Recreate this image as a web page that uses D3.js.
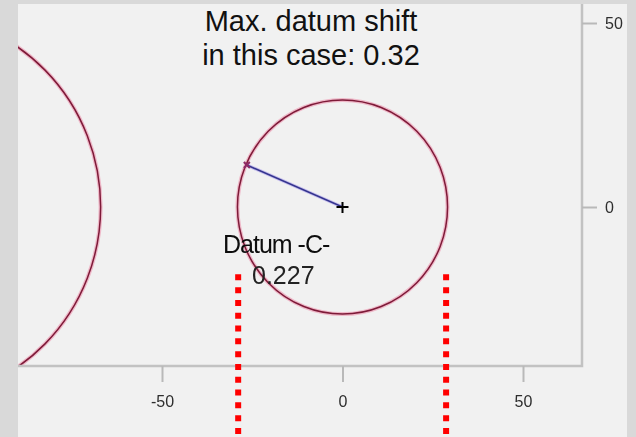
<!DOCTYPE html>
<html>
<head>
<meta charset="utf-8">
<script src="https://cdn.jsdelivr.net/npm/d3@7"></script>
<style>
  body { margin: 0; background: #d9d9d9; }
  svg { display: block; }
</style>
</head>
<body>
<script>
// values
const xTicks = [-50, 0, 50];
const yTicks = [0, 50];
const circleCenters = [[0, 0], [-119.6, 0]];
const circleRadii = [29.1, 52.6];
const shiftLine = [[-26.5, 11.4], [0, 0]];
const limitX = [-28.9, 28.7];
const limitY = [-18.3, -63];
const titleLines = ["Max. datum shift", "in this case: 0.32"];
const datumLabel = ["Datum -C-", "0.227"];

const width = 636, height = 437;
const plot = {left: 18, top: 4, right: 582, bottom: 366};
const fontFam = "Liberation Sans, Arial, sans-serif";

const svg = d3.select("body").append("svg")
  .attr("width", width)
  .attr("height", height);

// scales (units -> px)
const x = d3.scaleLinear().domain([-50, 50]).range([162, 523]);
const y = d3.scaleLinear().domain([0, 50]).range([207, 23]);

const defs = svg.append("defs");
defs.append("clipPath").attr("id", "plotclip")
  .append("rect")
  .attr("x", plot.left).attr("y", plot.top)
  .attr("width", plot.right - plot.left)
  .attr("height", plot.bottom - plot.top);
defs.append("filter").attr("id", "soft")
  .append("feGaussianBlur").attr("stdDeviation", 0.45);

// panel
svg.append("rect")
  .attr("x", 18).attr("y", 4)
  .attr("width", 609).attr("height", 433)
  .attr("fill", "#f1f1f1");

// circles, clipped to plot area
const g = svg.append("g").attr("clip-path", "url(#plotclip)");
const circ = g.selectAll(".circ")
  .data(circleCenters.map((c, i) => ({c: c, r: circleRadii[i]})))
  .enter().append("g").attr("class", "circ");

circ.append("ellipse")
  .attr("cx", d => x(d.c[0])).attr("cy", d => y(d.c[1]))
  .attr("rx", d => x(d.r) - x(0)).attr("ry", d => y(0) - y(d.r))
  .attr("fill", "none")
  .attr("stroke", "#eea6bb")
  .attr("stroke-opacity", 0.75)
  .attr("stroke-width", 4);
circ.append("ellipse")
  .attr("cx", d => x(d.c[0])).attr("cy", d => y(d.c[1]))
  .attr("rx", d => x(d.r) - x(0)).attr("ry", d => y(0) - y(d.r))
  .attr("fill", "none")
  .attr("stroke", "#7e1a38")
  .attr("stroke-width", 1.5);

// frame (right and bottom)
svg.append("path")
  .attr("d", `M${plot.left},${plot.bottom}H${plot.right}V${plot.top}`)
  .attr("fill", "none")
  .attr("stroke", "#c2c2c2")
  .attr("stroke-width", 2.5);

// axes
const fmt = d => String(d);   // plain hyphen, like the original
const xAxis = svg.append("g")
  .attr("transform", `translate(0,${plot.bottom})`)
  .call(d3.axisBottom(x).tickValues(xTicks).tickFormat(fmt).tickSize(16).tickPadding(14));
const yAxis = svg.append("g")
  .attr("transform", `translate(${plot.right},0)`)
  .call(d3.axisRight(y).tickValues(yTicks).tickFormat(fmt).tickSize(15).tickPadding(8));

[xAxis, yAxis].forEach(a => {
  a.select(".domain").remove();
  a.selectAll(".tick line").attr("stroke", "#b9b9b9").attr("stroke-width", 2);
  a.selectAll(".tick text")
    .attr("fill", "#2e2e2e")
    .attr("font-family", fontFam)
    .attr("font-size", 16)
    .attr("filter", "url(#soft)");
});

// shift vector from circle point to center
svg.append("line")
  .attr("x1", x(shiftLine[0][0])).attr("y1", y(shiftLine[0][1]))
  .attr("x2", x(shiftLine[1][0])).attr("y2", y(shiftLine[1][1]))
  .attr("stroke", "#c8c0ee").attr("stroke-width", 3.5);
svg.append("line")
  .attr("x1", x(shiftLine[0][0])).attr("y1", y(shiftLine[0][1]))
  .attr("x2", x(shiftLine[1][0])).attr("y2", y(shiftLine[1][1]))
  .attr("stroke", "#35358f").attr("stroke-width", 1.5);

// small marker at the shifted point
const px = x(shiftLine[0][0]), py = y(shiftLine[0][1]);
svg.append("path")
  .attr("d", `M${px - 3},${py - 3}L${px + 3},${py + 3}M${px - 3},${py + 3}L${px + 3},${py - 3}`)
  .attr("stroke", "#8e2a66").attr("stroke-width", 2);

// center cross
const cx0 = x(0), cy0 = y(0);
svg.append("path")
  .attr("d", `M${cx0 - 6},${cy0}H${cx0 + 6}M${cx0},${cy0 - 5}V${cy0 + 6}`)
  .attr("stroke", "#000").attr("stroke-width", 2);

// datum label
svg.append("text")
  .attr("x", 223).attr("y", 253)
  .attr("font-family", fontFam)
  .attr("font-size", 25)
  .attr("letter-spacing", -1)
  .attr("fill", "#111")
  .attr("filter", "url(#soft)")
  .text(datumLabel[0]);
svg.append("text")
  .attr("x", 252).attr("y", 284)
  .attr("font-family", fontFam)
  .attr("font-size", 25)
  .attr("fill", "#222")
  .attr("filter", "url(#soft)")
  .text(datumLabel[1]);

// red dotted limit lines
svg.selectAll(".limit")
  .data(limitX)
  .enter().append("line")
  .attr("class", "limit")
  .attr("x1", d => x(d)).attr("x2", d => x(d))
  .attr("y1", y(limitY[0])).attr("y2", y(limitY[1]))
  .attr("stroke", "#ff0000")
  .attr("stroke-width", 6)
  .attr("stroke-dasharray", "6,6.8");

// title
svg.append("text")
  .attr("text-anchor", "middle")
  .attr("font-family", fontFam)
  .attr("font-size", 29)
  .attr("fill", "#111")
  .selectAll("tspan")
  .data(titleLines)
  .enter().append("tspan")
  .attr("x", 311)
  .attr("y", (d, i) => 31 + i * 33.5)
  .text(d => d);
</script>
</body>
</html>
